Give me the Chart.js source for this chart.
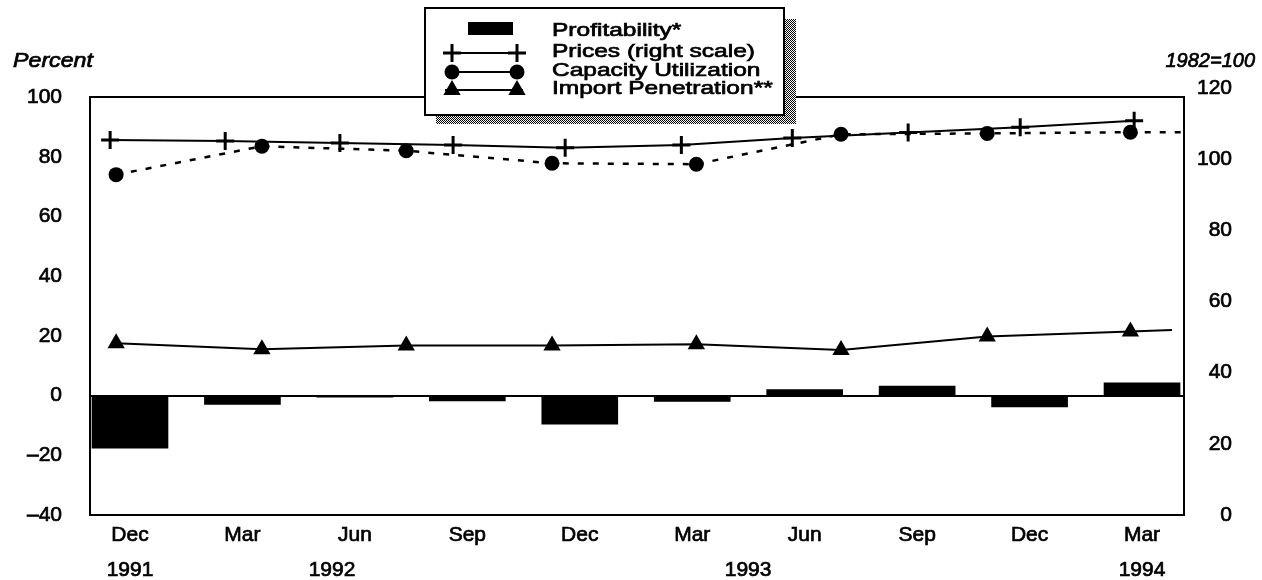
<!DOCTYPE html>
<html>
<head>
<meta charset="utf-8">
<script src="https://cdn.jsdelivr.net/npm/chart.js@4.4.0/dist/chart.umd.min.js"></script>
<style>
 html,body{margin:0;padding:0;background:#fff;}
 #wrap{width:1262px;height:580px;position:relative;}
</style>
</head>
<body>
<div id="wrap"><canvas id="c"></canvas></div>
<script>
/* ----- DATA (x = months after Dec 1991) ----- */
const quarterLabels=['Dec','Mar','Jun','Sep','Dec','Mar','Jun','Sep','Dec','Mar'];
const quarterPos=[0,3,6,9,12,15,18,21,24,27];
const yearLabels=['1991','1992','1993','1994'];
const yearPos=[0,5.39,16.49,27];

const profitability=[-17.6,-3,-0.5,-1.8,-9.6,-2,2,3.2,-3.8,4.3];

const pricesPos=[-0.53,2.54,5.6,8.62,11.61,14.71,17.67,20.76,23.75,26.79];
const prices=[105.4,105.1,104.6,104.0,103.2,104.0,106.0,107.5,109.0,110.8];

const capacityPos=[-0.37,3.52,7.37,11.26,15.11,18.97,22.87,26.69,28.2];
const capacity=[74,83.5,82,77.8,77.5,87.5,87.8,88.2,88.2];

const importPos=[-0.37,3.52,7.37,11.26,15.11,18.97,22.87,26.69,27.8];
const importPen=[17.5,15.5,16.8,16.8,17.2,15.3,19.8,21.5,22];

const leftTicks=[-40,-20,0,20,40,60,80,100];
const rightTicks=[0,20,40,60,80,100,120];

/* ----- TICKS ----- */
const xTicks=quarterPos.map((v,i)=>({value:v,label:[quarterLabels[i],'']}));
yearPos.forEach((v,i)=>{
 const t=xTicks.find(t=>Math.abs(t.value-v)<0.01);
 if(t) t.label[1]=yearLabels[i];
 else xTicks.push({value:v,label:['',yearLabels[i]]});
});
xTicks.sort((a,b)=>a.value-b.value);

function pts(xs,ys){ return xs.map((x,i)=>({x:x,y:ys[i]})); }
// last point of these series has no marker, it is just where the line stops
function radii(n,r){ return Array.from({length:n},(_,i)=>i===n-1?0:r); }

/* ----- UTIL ----- */
function wideText(ctx,txt,x,y,sx,align){
 ctx.save();
 ctx.translate(x,y);
 ctx.scale(sx,1);
 ctx.textAlign=align||'left';
 ctx.lineWidth=0.7;
 ctx.strokeStyle='#000';
 ctx.fillText(txt,0,0);
 ctx.strokeText(txt,0,0);
 ctx.restore();
}

function marker(ctx,style,x,y){
 ctx.save();
 ctx.fillStyle='#000';
 ctx.strokeStyle='#000';
 if(style==='cross'){
  ctx.lineWidth=3;
  ctx.beginPath();
  ctx.moveTo(x-9,y);ctx.lineTo(x+9,y);
  ctx.moveTo(x,y-9);ctx.lineTo(x,y+9);
  ctx.stroke();
 }else if(style==='circle'){
  ctx.beginPath();
  ctx.arc(x,y,7.5,0,Math.PI*2);
  ctx.fill();
 }else if(style==='triangle'){
  const r=10;
  ctx.beginPath();
  ctx.moveTo(x,y-r);
  ctx.lineTo(x+r*0.866,y+r*0.5);
  ctx.lineTo(x-r*0.866,y+r*0.5);
  ctx.closePath();
  ctx.fill();
 }
 ctx.restore();
}

const pc=document.createElement('canvas');
pc.width=pc.height=2;
const pctx=pc.getContext('2d');
pctx.fillStyle='#fff';pctx.fillRect(0,0,2,2);
pctx.fillStyle='#000';pctx.fillRect(0,0,1,1);pctx.fillRect(1,1,1,1);

/* ----- FRAME + LEGEND ----- */
const decor={
 id:'decor',
 afterDatasetsDraw(chart){
  const {ctx,chartArea:a}=chart;
  ctx.save();
  ctx.strokeStyle='#000';
  ctx.lineWidth=2;
  ctx.strokeRect(a.left,a.top,a.right-a.left,a.bottom-a.top);
  ctx.restore();
 },
 afterDraw(chart){
  const ctx=chart.ctx;
  const ds=chart.data.datasets;
  ctx.save();
  ctx.fillStyle='#000';
  ctx.textBaseline='alphabetic';
  ctx.font='italic 20px "Liberation Sans", Arial, sans-serif';
  wideText(ctx,'Percent',13,67,1.16,'left');
  wideText(ctx,'1982=100',1255,67,1,'right');

  // legend box with dotted shadow
  ctx.fillStyle=ctx.createPattern(pc,'repeat');
  ctx.fillRect(436,19,360,105);
  ctx.fillStyle='#fff';
  ctx.fillRect(425,8,359,107);
  ctx.strokeStyle='#000';
  ctx.lineWidth=2;
  ctx.strokeRect(425,8,359,107);

  const rows=[36,57,76,94];
  const lineY=[28,53,72,90];
  ctx.fillStyle='#000';
  ctx.font='19px "Liberation Sans", Arial, sans-serif';
  ds.forEach((d,i)=>{
   wideText(ctx,d.label,552,rows[i],1.29,'left');
   if(d.type==='bar'){
    ctx.fillRect(468,22,45,13);
   }else{
    ctx.save();
    ctx.lineWidth=2;
    ctx.beginPath();
    ctx.moveTo(445,lineY[i]);ctx.lineTo(523,lineY[i]);
    ctx.stroke();
    ctx.restore();
    marker(ctx,d.pointStyle,452,lineY[i]);
    marker(ctx,d.pointStyle,517,lineY[i]);
   }
  });
  ctx.restore();
 }
};

Chart.defaults.font.family='"Liberation Sans", Arial, sans-serif';
Chart.defaults.font.size=21;
Chart.defaults.color='#000';

const tickInk={textStrokeColor:'#000',textStrokeWidth:0.7};

new Chart(document.getElementById('c'),{
 data:{
  datasets:[
   {
    type:'bar',
    label:'Profitability*',
    data:pts(quarterPos,profitability),
    backgroundColor:'#000',
    barThickness:76,
    yAxisID:'y',
    order:4
   },
   {
    type:'line',
    label:'Prices (right scale)',
    data:pts(pricesPos,prices),
    borderColor:'#000',
    borderWidth:2,
    pointStyle:'cross',
    pointRadius:9,
    pointBorderWidth:3,
    pointBorderColor:'#000',
    tension:0,
    yAxisID:'y1',
    order:1
   },
   {
    type:'line',
    label:'Capacity Utilization',
    data:pts(capacityPos,capacity),
    borderColor:'#000',
    borderWidth:2.5,
    borderDash:[6,9],
    pointStyle:'circle',
    pointRadius:radii(capacity.length,7.5),
    pointBackgroundColor:'#000',
    pointBorderWidth:0,
    tension:0,
    yAxisID:'y',
    order:2
   },
   {
    type:'line',
    label:'Import Penetration**',
    data:pts(importPos,importPen),
    borderColor:'#000',
    borderWidth:2,
    pointStyle:'triangle',
    pointRadius:radii(importPen.length,10),
    pointBackgroundColor:'#000',
    pointBorderWidth:0,
    tension:0,
    yAxisID:'y',
    order:3
   }
  ]
 },
 options:{
  responsive:true,
  maintainAspectRatio:false,
  animation:false,
  layout:{padding:{top:97,right:30,left:0,bottom:0}},
  plugins:{legend:{display:false},tooltip:{enabled:false}},
  scales:{
   x:{
    type:'linear',
    min:-1.067,
    max:28.12,
    offset:false,
    grid:{display:false,drawTicks:false},
    border:{display:false},
    afterBuildTicks:s=>{ s.ticks=xTicks.map(t=>({value:t.value})); },
    afterFit:s=>{ s.height=65; },
    ticks:{
     ...tickInk,
     autoSkip:false,
     maxRotation:0,
     padding:3,
     font:{size:21,lineHeight:1.667},
     callback:v=>{ const t=xTicks.find(t=>t.value===v); return t?t.label:''; }
    }
   },
   y:{
    type:'linear',
    position:'left',
    min:-40,
    max:100,
    grid:{
     drawTicks:false,
     color:c=>c.tick&&c.tick.value===0?'#000':'rgba(0,0,0,0)',
     lineWidth:2
    },
    border:{display:false},
    afterBuildTicks:s=>{ s.ticks=leftTicks.map(v=>({value:v})); },
    afterFit:s=>{ s.width=90; },
    ticks:{
     ...tickInk,
     padding:28,
     callback:v=>v<0?'\u2013'+Math.abs(v):String(v)
    }
   },
   y1:{
    type:'linear',
    position:'right',
    min:0,
    max:117.5,
    grid:{display:false,drawTicks:false},
    border:{display:false},
    afterBuildTicks:s=>{ s.ticks=rightTicks.map(v=>({value:v})); },
    afterFit:s=>{ s.width=48; },
    ticks:{...tickInk,crossAlign:'far',padding:10}
   }
  }
 },
 plugins:[decor]
});
</script>
</body>
</html>
